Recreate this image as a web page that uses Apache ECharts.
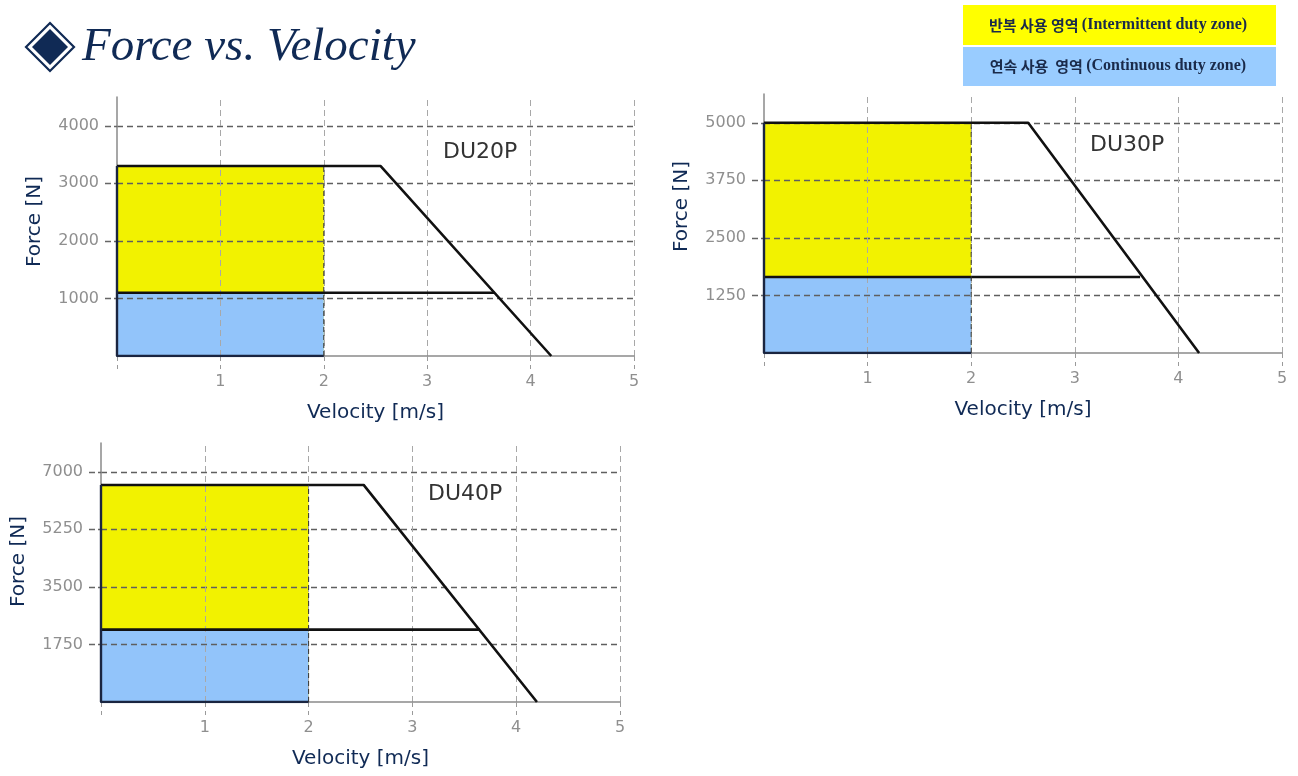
<!DOCTYPE html>
<html>
<head>
<meta charset="utf-8">
<script src="https://cdn.jsdelivr.net/npm/echarts@6/dist/echarts.min.js"></script>
<style>
html,body{margin:0;padding:0;background:#fff;}
#chart{width:1298px;height:776px;}
</style>
</head>
<body>
<div id="chart"></div>
<script>
// ---- data ----
const models = ['DU20P', 'DU30P', 'DU40P'];
const velocityTicks = [0, 1, 2, 3, 4, 5];
const forceTicks = [
  [1000, 2000, 3000, 4000],
  [1250, 2500, 3750, 5000],
  [1750, 3500, 5250, 7000]
];
const forceAxisMax = [4500, 5625, 7875];
const intermittentForce = [3300, 5000, 6600];
const continuousForce = [1100, 1650, 2200];
const zoneVelocity = [2, 2, 2];
const cornerVelocity = [2.55, 2.55, 2.53];
const maxVelocity = [4.2, 4.2, 4.2];
const continuousEndVelocity = [3.65, 3.63, 3.65];
const legendTexts = [
  ['반복 사용 영역', '(Intermittent duty zone)'],
  ['연속 사용  영역', '(Continuous duty zone)']
];
const titleText = 'Force vs. Velocity';
const xAxisName = 'Velocity [m/s]';
const yAxisName = 'Force [N]';

// ---- layout / style ----
const grids = [
  { left: 117, top: 97, width: 517, height: 259 },
  { left: 764, top: 94, width: 518, height: 259 },
  { left: 101, top: 443, width: 519, height: 259 }
];
const modelLabelPos = [[443, 141], [1090, 134], [428, 483]];
const yNamePad = [[0, 0, 0, 10], [0, 0, 0, 34], [0, 0, 0, 22]];
const NAVY = '#102a55';
const YELLOW = '#F2F200';
const BLUE = '#92C4FA';
const tickLabel = { color: '#8f8f8f', fontSize: 16, fontFamily: 'DejaVu Sans' };
const fmt = v => String(v);
const hGrid = { color: '#5f5f5f', type: [6, 4], width: 1.3 };
const vGrid = { color: '#a8a8a8', type: [6, 4], width: 1 };

const chart = echarts.init(document.getElementById('chart'), null, { renderer: 'canvas' });

const xAxes = [], yAxes = [], series = [], gridOpts = [];
for (let i = 0; i < 3; i++) {
  gridOpts.push(Object.assign({ containLabel: false }, grids[i]));
  xAxes.push({
    type: 'value', gridIndex: i, min: 0, max: 5, interval: 1, zlevel: 1, z: 2,
    name: xAxisName, nameLocation: 'middle', nameGap: 47,
    nameTextStyle: { color: NAVY, fontSize: 20, fontFamily: 'DejaVu Sans' },
    axisLine: { show: true, lineStyle: { color: '#8a8a8a', width: 1.5 } },
    axisTick: { show: true, length: 13, customValues: velocityTicks,
      lineStyle: { color: '#9a9a9a', type: [5, 4], width: 1 } },
    axisLabel: { show: true, margin: 18, formatter: fmt,
      customValues: velocityTicks.filter(v => v !== 0), ...tickLabel },
    splitLine: { show: false }
  });
  yAxes.push({
    type: 'value', gridIndex: i, min: 0, max: forceAxisMax[i], zlevel: 1, z: 2,
    name: yAxisName, nameLocation: 'middle', nameGap: 72,
    nameTextStyle: { color: NAVY, fontSize: 20, fontFamily: 'DejaVu Sans', padding: yNamePad[i] },
    axisLine: { show: true, lineStyle: { color: '#8a8a8a', width: 1.5 } },
    axisTick: { show: true, length: 12, customValues: forceTicks[i],
      lineStyle: { color: '#666', type: [3, 3, 6, 0], width: 1.3 } },
    axisLabel: { show: true, margin: 18, formatter: fmt,
      customValues: forceTicks[i], ...tickLabel },
    splitLine: { show: false }
  });
  const base = { type: 'line', xAxisIndex: i, yAxisIndex: i, symbol: 'none', silent: true, animation: false };
  series.push(Object.assign({}, base, {
    zlevel: 0, z: 0, data: [[0, intermittentForce[i]], [zoneVelocity[i], intermittentForce[i]]],
    lineStyle: { width: 0 }, areaStyle: { color: YELLOW, opacity: 1 }
  }));
  series.push(Object.assign({}, base, {
    zlevel: 0, z: 1, data: [[0, continuousForce[i]], [zoneVelocity[i], continuousForce[i]]],
    lineStyle: { width: 0 }, areaStyle: { color: BLUE, opacity: 1 }
  }));
  // grid lines drawn above the fills
  series.push(Object.assign({}, base, {
    zlevel: 1, z: 2, data: [[0, 0]], lineStyle: { width: 0 },
    markLine: {
      silent: true, animation: false, symbol: ['none', 'none'], label: { show: false },
      data: forceTicks[i].map(v => ({ yAxis: v, lineStyle: hGrid }))
        .concat(velocityTicks.filter(v => v !== 0).map(v => ({ xAxis: v, lineStyle: vGrid })))
    }
  }));
  series.push(Object.assign({}, base, {
    zlevel: 1, z: 3, data: [[0, intermittentForce[i]], [cornerVelocity[i], intermittentForce[i]], [maxVelocity[i], 0]],
    lineStyle: { color: '#111', width: 2.6 }
  }));
  series.push(Object.assign({}, base, {
    zlevel: 1, z: 3, data: [[0, continuousForce[i]], [continuousEndVelocity[i], continuousForce[i]]],
    lineStyle: { color: '#111', width: 2.6 }
  }));
  series.push(Object.assign({}, base, {
    zlevel: 1, z: 3, data: [[zoneVelocity[i], 0], [0, 0], [0, intermittentForce[i]]],
    lineStyle: { color: '#1a2540', width: 2.4 }
  }));
  series.push(Object.assign({}, base, {
    zlevel: 1, z: 3, data: [[zoneVelocity[i], 0], [zoneVelocity[i], intermittentForce[i]]],
    lineStyle: { color: '#333', width: 1, type: [5, 3] }
  }));
}

const graphic = [
  // title diamond icon
  { type: 'polygon', shape: { points: [[50, 23], [74, 47], [50, 71], [26, 47]] },
    style: { fill: 'none', stroke: NAVY, lineWidth: 2.2 } },
  { type: 'polygon', shape: { points: [[50, 29], [68, 47], [50, 65], [32, 47]] },
    style: { fill: NAVY } },
  { type: 'text', left: 82, top: 24,
    style: { text: titleText, fill: NAVY, font: 'italic 47px "Liberation Serif", serif' } },
  // legend boxes
  { type: 'rect', shape: { x: 963, y: 5, width: 313, height: 40 }, style: { fill: '#FFFF00' } },
  { type: 'rect', shape: { x: 963, y: 47, width: 313, height: 39 }, style: { fill: '#99CCFF' } }
];
const legendY = [25, 66];
for (let k = 0; k < 2; k++) {
  graphic.push({
    type: 'text', x: 1118, y: legendY[k],
    style: {
      text: '{k|' + legendTexts[k][0] + '} {e|' + legendTexts[k][1] + '}',
      align: 'center', verticalAlign: 'middle',
      rich: {
        k: { fontFamily: 'Noto Sans CJK KR', fontWeight: 'bold', fontSize: 15, fill: '#1a2a4a', color: '#1a2a4a' },
        e: { fontFamily: 'Liberation Serif', fontWeight: 'bold', fontSize: 16, fill: '#1a2a4a', color: '#1a2a4a' }
      }
    }
  });
}
for (let i = 0; i < 3; i++) {
  graphic.push({
    type: 'text', left: modelLabelPos[i][0], top: modelLabelPos[i][1],
    style: { text: models[i], fill: '#333', font: '22px "DejaVu Sans", sans-serif' }
  });
}

chart.setOption({
  backgroundColor: '#fff',
  animation: false,
  grid: gridOpts,
  xAxis: xAxes,
  yAxis: yAxes,
  series: series,
  graphic: graphic
});
</script>
</body>
</html>
